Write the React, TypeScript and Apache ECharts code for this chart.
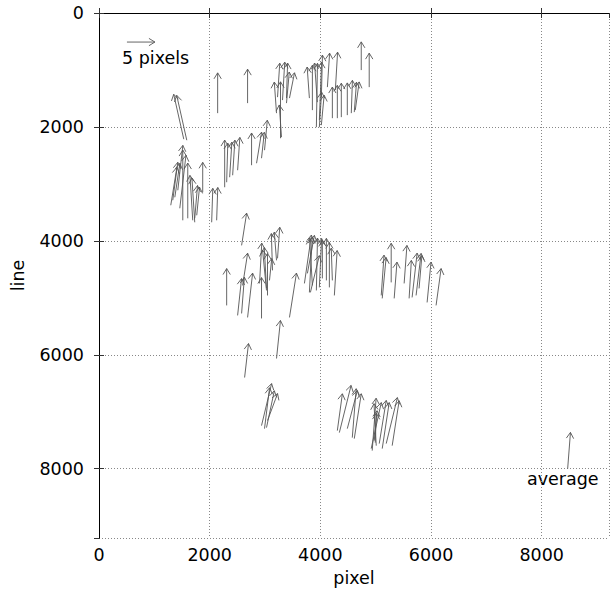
import React, { useEffect, useRef } from "react";
import * as echarts from "echarts";

// tick labels
const X_TICKS = [0, 2000, 4000, 6000, 8000];
const Y_TICKS = [0, 2000, 4000, 6000, 8000];

// arrow tails (pixel, line) and shifts (in pixels)
const arrowPixel = [
  1532, 1586, 1514, 1333, 1370, 1297, 1604, 1694, 1730, 1874, 1730, 1766, 2036, 2126, 1424, 1460,
  2144, 2685, 2577, 2271, 2307, 2361, 2505, 2757, 2847, 2937, 2991, 2415, 3280, 3208, 3298, 3226,
  3316, 3388, 3388, 3442, 3802, 3856, 3928, 3982, 3946, 4018, 4127, 4271, 3982, 4018, 4217, 4307,
  4379, 4487, 4559, 4613, 4631, 4739, 4883, 2901, 3027, 3135, 3208, 3226, 3027, 3045, 3081, 2307,
  2937, 2505, 2577, 2685, 2595, 3442, 3208, 3712, 3766, 3802, 3856, 3928, 3982, 4036, 4109, 4163,
  4253, 4217, 3820, 5100, 5118, 5280, 5334, 5514, 5604, 5658, 5730, 5784, 5929, 6091, 2631, 2937,
  2991, 3027, 3045, 4343, 4307, 4487, 4613, 4577, 4937, 4919, 5010, 5064, 5118, 5190, 5298, 4974,
  4992,
];
const arrowLine = [
  2215, 2233, 3639, 3287, 3235, 3375, 3604, 3639, 3674, 3147, 3604, 3551, 3674, 3639, 3112, 3428,
  1758, 1582, 4079, 3059, 2971, 2883, 2760, 2672, 2637, 2549, 2408, 2848, 2198, 1758, 2180, 1477,
  1529, 1494, 1582, 1494, 1494, 1705, 2004, 1881, 1565, 1477, 1301, 1354, 2004, 1969, 1846, 1846,
  1828, 1793, 1758, 1740, 1705, 1002, 1301, 4747, 4835, 4518, 4342, 4307, 4870, 4958, 4694, 5133,
  5362, 5309, 5274, 5344, 4782, 5344, 6065, 4747, 4571, 4905, 4782, 4870, 4817, 4659, 4694, 4817,
  4958, 4694, 4905, 4958, 5010, 4729, 5010, 4747, 5010, 4993, 4958, 4835, 5081, 5133, 6399, 7243,
  7296, 7278, 7155, 7366, 7331, 7296, 7472, 7454, 7682, 7647, 7595, 7559, 7647, 7559, 7595, 7507,
  7542,
];
const shiftPixel = [
  -1.8, -1.8, 0, 0.9, 0.9, 1.1, 0, -0.5, -0.5, 0, 0.5, 0.5, 0.2, 0.2, 0.9, 1.1,
  0, 0, 0.9, 0, 0.2, 0.4, 0.4, 0, 0.9, 0.5, 0.5, 0.4, 0, -0.4, -0.4, 0.4,
  0.4, 0.2, 0.5, 0.9, -0.4, 0, 0.2, 0.4, -0.5, 0.2, 0.4, 0.4, 0.4, 0.5, 0, 0,
  0, 0, 0.2, 0.4, 0.7, 0, 0, 0.4, -0.4, -0.2, -0.4, 0.4, -0.7, 0, 0.4, 0,
  0, 0.7, 0.5, 0.9, 0.9, 1.25, 0.7, 1.25, 1.25, 0.5, -0.5, 0.2, 0.4, 0, 0, 0,
  0.5, -0.2, 1.6, 0.5, 0.7, 0, 0.5, 0.5, 0.4, 0.9, 0.9, 0.5, 0.7, 0.9, 0.7, 1.8,
  0.9, 1.4, 1.8, 2.1, 0.9, 1.8, 1.25, 0.7, 0.7, 1.8, -0.4, 1.25, 1.25, 2.0, 1.25, 0.5,
  0.2,
];
const shiftLine = [
  -7.8, -7.8, -12.2, -6.6, -5.9, -6.6, -9.6, -7.8, -7.7, -5.2, -5.7, -4.9, -5.9, -5.7, -7.8, -9.2,
  -7.0, -5.9, -5.6, -8.2, -6.8, -6.1, -5.7, -5.6, -5.4, -4.5, -5.2, -6.1, -9.8, -5.4, -5.6, -5.9,
  -6.6, -6.1, -5.4, -4.4, -5.4, -7.8, -11.1, -10.1, -6.8, -7.3, -5.9, -6.6, -6.1, -5.2, -5.4, -5.7,
  -5.9, -5.6, -5.7, -5.2, -4.9, -4.9, -5.9, -7.0, -7.1, -6.4, -4.9, -5.4, -7.0, -7.3, -3.8, -6.4,
  -7.1, -6.4, -6.3, -7.7, -5.6, -7.7, -6.6, -8.4, -6.6, -9.6, -8.2, -9.1, -8.5, -6.6, -7.3, -7.8,
  -7.8, -5.6, -6.4, -7.0, -7.1, -6.8, -6.3, -6.6, -6.6, -7.7, -7.3, -5.7, -7.0, -6.4, -5.9, -7.3,
  -7.1, -6.4, -4.7, -8.2, -6.4, -6.6, -7.8, -8.5, -9.1, -8.0, -7.3, -7.5, -8.0, -8.0, -7.8, -5.2,
  -5.1,
];

// average arrow and the scale key
const averageArrow = [8469, 7999, 0.5, -6.3];
const keyArrow = [505, 510, 5, 0];

const X_MAX = 9216;
const Y_MAX = 9216;
const ARROW_SCALE = 101; // axis units per pixel of shift

const FONT = "DejaVu Sans";

export default function App() {
  const ref = useRef<HTMLDivElement>(null);
  useEffect(() => {
    if (!ref.current) return;
    const chart = echarts.init(ref.current, null, { renderer: "svg" });
    const data = arrowPixel.map((x, i) => [x, arrowLine[i], shiftPixel[i], shiftLine[i]]);
    data.push(averageArrow);
    data.push(keyArrow);

    const renderItem = (params: any, api: any) => {
      const x = api.value(0);
      const y = api.value(1);
      const dx = api.value(2);
      const dy = api.value(3);
      const p0 = api.coord([x, y]);
      const p1 = api.coord([x + dx * ARROW_SCALE, y + dy * ARROW_SCALE]);
      const ang = Math.atan2(p1[1] - p0[1], p1[0] - p0[0]);
      const L = 7;
      const A = 0.55;
      const w1 = [p1[0] - L * Math.cos(ang - A), p1[1] - L * Math.sin(ang - A)];
      const w2 = [p1[0] - L * Math.cos(ang + A), p1[1] - L * Math.sin(ang + A)];
      const style = { stroke: "#555", lineWidth: 0.9, fill: null };
      return {
        type: "group",
        children: [
          { type: "line", shape: { x1: p0[0], y1: p0[1], x2: p1[0], y2: p1[1] }, style },
          { type: "polyline", shape: { points: [w1, p1, w2] }, style },
        ],
      };
    };

    const tickFmt = (list: number[]) => (v: number) => (list.indexOf(v) >= 0 ? String(v) : "");
    const axisCommon = {
      type: "value",
      interval: 2000,
      axisLine: { show: true, lineStyle: { color: "#000", width: 1 } },
      axisTick: { show: true, inside: true, length: 5, lineStyle: { color: "#333" } },
    };

    chart.setOption({
      animation: false,
      backgroundColor: "#fff",
      grid: { left: 99, top: 13, width: 510, height: 525, show: false, outerBoundsMode: "none", containLabel: false },
      xAxis: [
        {
          ...axisCommon,
          min: 0,
          max: X_MAX,
          position: "bottom",
          name: "pixel",
          nameLocation: "middle",
          nameGap: 30,
          nameTextStyle: { fontFamily: FONT, fontSize: 17.5, color: "#000" },
          axisLabel: {
            formatter: tickFmt(X_TICKS),
            showMaxLabel: false,
            margin: 8,
            fontFamily: FONT,
            fontSize: 17.5,
            color: "#000",
          },
          splitLine: { show: true, lineStyle: { color: "#888", type: [1, 2], width: 1 } },
        },
        {
          ...axisCommon,
          min: 0,
          max: X_MAX,
          position: "top",
          axisLabel: { show: false },
          splitLine: { show: false },
        },
      ],
      yAxis: [
        {
          ...axisCommon,
          min: 0,
          max: Y_MAX,
          inverse: true,
          position: "left",
          name: "line",
          nameLocation: "middle",
          nameGap: 72,
          nameRotate: 90,
          nameTextStyle: { fontFamily: FONT, fontSize: 17.5, color: "#000" },
          axisLabel: {
            formatter: tickFmt(Y_TICKS),
            showMaxLabel: false,
            margin: 15,
            fontFamily: FONT,
            fontSize: 17.5,
            color: "#000",
          },
          splitLine: { show: true, lineStyle: { color: "#888", type: [1, 2], width: 1 } },
        },
        {
          ...axisCommon,
          min: 0,
          max: Y_MAX,
          inverse: true,
          position: "right",
          axisLabel: { show: false },
          splitLine: { show: false },
        },
      ],
      graphic: [
        {
          type: "text",
          left: 122,
          top: 49,
          style: { text: "5 pixels", fontFamily: FONT, fontSize: 17.5, fill: "#000" },
        },
        {
          type: "text",
          left: 527,
          top: 470,
          style: { text: "average", fontFamily: FONT, fontSize: 17.5, fill: "#000" },
        },
      ],
      series: [
        {
          type: "custom",
          renderItem,
          data,
          silent: true,
        },
      ],
    });
    return () => chart.dispose();
  }, []);
  return (
    <div
      ref={ref}
      style={{ position: "fixed", left: 0, top: 0, width: 611, height: 591, background: "#fff" }}
    />
  );
}
